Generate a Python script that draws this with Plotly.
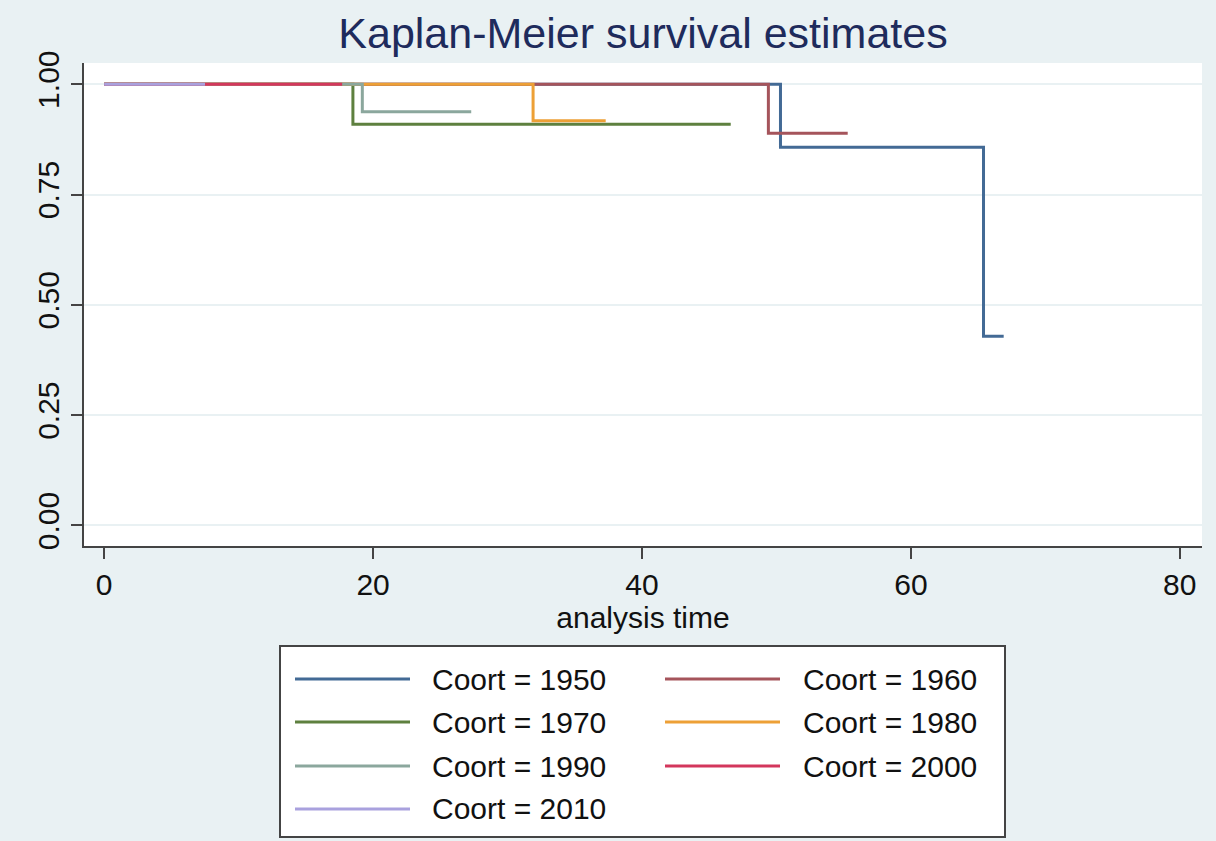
import plotly.graph_objects as go

# ---- data ----
cohorts = ["1950", "1960", "1970", "1980", "1990", "2000", "2010"]
times = {
    "1950": [0, 50.3, 65.4, 66.9],
    "1960": [0, 49.4, 55.3],
    "1970": [0, 18.5, 46.6],
    "1980": [0, 31.9, 37.3],
    "1990": [0, 19.2, 27.3],
    "2000": [0, 17.7],
    "2010": [0, 7.5],
}
survival = {
    "1950": [1.0, 0.857, 0.429, 0.429],
    "1960": [1.0, 0.889, 0.889],
    "1970": [1.0, 0.909, 0.909],
    "1980": [1.0, 0.917, 0.917],
    "1990": [1.0, 0.9375, 0.9375],
    "2000": [1.0, 1.0],
    "2010": [1.0, 1.0],
}
colors = ["#436a95", "#a5545b", "#5e803f", "#eda036", "#8ba79d", "#d3375c", "#a9a1de"]
x_ticks = [0, 20, 40, 60, 80]
y_ticks = [0.0, 0.25, 0.5, 0.75, 1.0]
y_tick_labels = ["0.00", "0.25", "0.50", "0.75", "1.00"]

W, H = 1216, 841
L, R, T, B = 84, 1202, 63, 546
BG = "#e9f1f3"
FONT = "Liberation Sans, Arial, Helvetica, sans-serif"

def px(xp):
    return (xp - L) / (R - L)

def py(yp):
    return (B - yp) / (B - T)

fig = go.Figure()
for c, col in zip(cohorts, colors):
    fig.add_trace(go.Scatter(
        x=times[c], y=survival[c], mode="lines", line=dict(color=col, width=3, shape="hv"),
        name=f"Coort = {c}", showlegend=False,
    ))

# ---- manual legend (Stata style, 2 columns, row-wise) ----
shapes = [dict(type="rect", xref="paper", yref="paper",
               x0=px(280), x1=px(1005), y0=py(837), y1=py(646),
               line=dict(color="#444444", width=2), fillcolor="white", layer="below")]
annotations = []
col_line_x = [(295, 410), (665, 780)]
col_text_x = [430, 801]
row_y = [679, 722, 766, 809]
for i, (c, col) in enumerate(zip(cohorts, colors)):
    r, k = divmod(i, 2)
    x0, x1 = col_line_x[k]
    yy = py(row_y[r])
    shapes.append(dict(type="line", xref="paper", yref="paper", x0=px(x0), x1=px(x1),
                       y0=yy, y1=yy, line=dict(color=col, width=3)))
    annotations.append(dict(xref="paper", yref="paper", x=px(col_text_x[k]), y=yy,
                            text=f"Coort = {c}", showarrow=False, xanchor="left", yanchor="middle",
                            font=dict(size=30, color="#111111", family=FONT)))

fig.update_layout(
    width=W, height=H,
    margin=dict(l=L, r=W - R, t=T, b=H - B),
    paper_bgcolor=BG, plot_bgcolor="white",
    font=dict(family=FONT, size=30, color="#111111"),
    title=dict(text="Kaplan-Meier survival estimates", x=0.5, xref="paper", xanchor="center",
               y=1 - 33 / H, yref="container", yanchor="middle",
               font=dict(size=43, color="#1e2b5c", family=FONT)),
    shapes=shapes, annotations=annotations,
    showlegend=False,
)
fig.update_xaxes(
    range=[-1.5, 81.65], tickvals=x_ticks, ticks="outside", ticklen=11, tickwidth=2,
    tickcolor="#444444", showline=True, linecolor="#444444", linewidth=2,
    showgrid=False, zeroline=False, tickfont=dict(size=30, color="#111111"),
    title=dict(text="analysis time", font=dict(size=30, color="#111111"), standoff=4),
)
fig.update_yaxes(
    range=[-0.0465, 1.048], tickvals=y_ticks, ticktext=y_tick_labels, tickangle=-90,
    ticks="outside", ticklen=11, tickwidth=2, tickcolor="#444444",
    showline=True, linecolor="#444444", linewidth=2,
    showgrid=True, gridcolor="#e9f1f3", gridwidth=2, zeroline=False,
    tickfont=dict(size=30, color="#111111"),
)

fig.write_html("out.html")
